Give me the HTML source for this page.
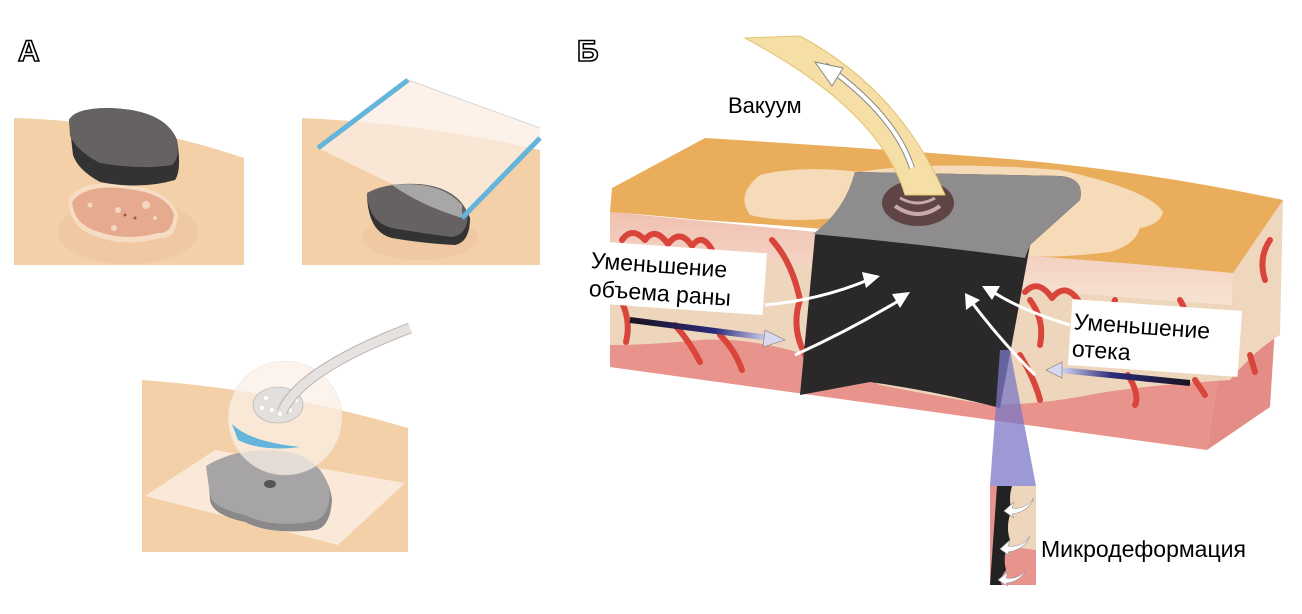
<!DOCTYPE html>
<html><head><meta charset="utf-8"><style>
html,body{margin:0;padding:0;background:#fff;}
svg{display:block;font-family:"Liberation Sans","DejaVu Sans",sans-serif;}
</style></head><body>
<svg width="1302" height="614" viewBox="0 0 1302 614" xmlns="http://www.w3.org/2000/svg">
<defs>
<linearGradient id="ga" x1="0" x2="1"><stop offset="0" stop-color="#1a1320"/><stop offset="0.6" stop-color="#2b2a7a"/><stop offset="1" stop-color="#d8d8f0"/></linearGradient>
<linearGradient id="gb" x1="1" x2="0"><stop offset="0" stop-color="#1a1320"/><stop offset="0.6" stop-color="#2b2a7a"/><stop offset="1" stop-color="#d8d8f0"/></linearGradient>
<linearGradient id="gp" x1="0" y1="0" x2="0" y2="1"><stop offset="0" stop-color="#f0c0b0"/><stop offset="1" stop-color="#f7e3d3"/></linearGradient>
</defs>

<text x="18" y="61" font-size="30" font-weight="bold" fill="#fff" stroke="#000" stroke-width="1.6">A</text>
<text x="577" y="61" font-size="30" font-weight="bold" fill="#fff" stroke="#000" stroke-width="1.6">Б</text>

<!-- Panel A1 -->
<path d="M14,118 Q140,122 244,158 L244,265 L14,265 Z" fill="#f3d0a8"/>
<ellipse cx="128" cy="232" rx="70" ry="32" fill="#eec39c" opacity="0.6"/>
<path d="M68,200 Q80,180 120,184 Q170,188 178,215 Q176,240 160,238 Q125,248 95,236 Q70,228 68,200Z" fill="#f7dcc4"/>
<path d="M72,202 Q84,185 120,188 Q168,192 174,215 Q172,234 158,233 Q125,242 96,231 Q74,224 72,202Z" fill="#e6ab8e"/>
<circle cx="118" cy="210" r="3" fill="#f3d6c4"/><circle cx="146" cy="205" r="4" fill="#f3d6c4"/><circle cx="114" cy="228" r="3" fill="#f3d6c4"/><circle cx="90" cy="205" r="2.5" fill="#f3d6c4"/><circle cx="155" cy="218" r="2" fill="#f3d6c4"/>
<circle cx="125" cy="215" r="1.5" fill="#a0584a"/><circle cx="135" cy="218" r="1.5" fill="#a0584a"/>
<path d="M69,120 Q75,108 110,108 Q165,110 177,140 Q182,170 175,180 Q140,190 100,182 Q78,170 73,155Z" fill="#333"/>
<path d="M69,120 Q75,108 110,108 Q165,110 177,140 Q180,158 172,165 Q140,170 100,163 Q78,152 70,136Z" fill="#666262"/>

<!-- Panel A2 -->
<path d="M302,118 Q430,124 540,150 L540,265 L302,265 Z" fill="#f3d0a8"/>
<path d="M318,148 L408,80 L540,128 L540,138 L462,218 Z" fill="#fbeee3" opacity="0.75"/>
<path d="M408,80 L540,128" stroke="#ccc" stroke-width="0.7"/>
<ellipse cx="420" cy="238" rx="58" ry="22" fill="#eec39c" opacity="0.6"/>
<path d="M367,195 Q385,184 420,186 Q460,190 470,218 Q470,242 455,245 Q420,243 392,238 Q368,232 367,195Z" fill="#333"/>
<path d="M367,193 Q387,182 420,184 Q458,188 468,214 Q468,234 452,237 Q420,233 392,228 Q368,222 367,193Z" fill="#666262"/>
<path d="M392,185 Q440,180 462,205 L462,218 Q420,205 392,185Z" fill="#a8a6a6"/>
<path d="M318,148 L408,80" stroke="#64b4dc" stroke-width="5"/>
<path d="M462,218 L540,138" stroke="#64b4dc" stroke-width="5"/>

<!-- Panel A3 -->
<path d="M142,380 Q280,390 408,428 L408,552 L142,552 Z" fill="#f3d0a8"/>
<path d="M145,496 L215,450 L405,483 L338,545 Z" fill="#fbeee3" opacity="0.8"/>
<path d="M208,470 Q240,448 290,455 Q328,465 332,500 Q330,528 315,530 Q270,535 245,522 Q212,515 210,500Z" fill="#8a8888"/>
<path d="M206,466 Q240,445 290,452 Q326,462 330,495 Q328,520 310,522 Q270,528 245,515 Q213,508 210,495Z" fill="#a6a4a4"/>
<ellipse cx="270" cy="484" rx="6" ry="4" fill="#555"/>
<circle cx="285" cy="418" r="57" fill="#fbf0e6" opacity="0.75" stroke="#ddd" stroke-width="0.6"/>
<path d="M232,424 Q250,442 300,447 Q262,452 238,440Z" fill="#64b4dc"/>
<ellipse cx="278" cy="405" rx="25" ry="18" fill="#e2dfdd" stroke="#aaa" stroke-width="0.6"/>
<g fill="#fff"><circle cx="266" cy="398" r="2"/><circle cx="272" cy="410" r="2"/><circle cx="280" cy="414" r="2"/><circle cx="290" cy="410" r="2"/><circle cx="262" cy="408" r="2"/><circle cx="296" cy="400" r="2"/></g>
<path d="M282,412 Q300,370 410,328" stroke="#b8b2b0" stroke-width="11" fill="none"/>
<path d="M282,412 Q300,370 410,328" stroke="#e6e2e0" stroke-width="9" fill="none"/>

<!-- Panel Б block -->
<!-- right face -->
<path d="M1233,273 L1283,200 L1270,407 L1207,450 Z" fill="#e48c86"/>
<path d="M1233,273 L1283,200 L1280,335 Q1255,350 1230,380 Z" fill="#efd7be"/>
<!-- front face -->
<path d="M610,212 L1233,273 L1207,450 L610,367 Z" fill="#e8948c"/>
<path d="M610,212 L1233,273 L1230,380 Q1150,385 1100,393 Q1040,405 990,405 Q930,395 880,385 Q780,335 700,340 Q650,345 610,345 Z" fill="#eed6bd"/>
<path d="M610,212 L1233,273 L1232,305 Q1150,300 1040,290 L610,245 Z" fill="url(#gp)"/>
<g stroke="#d9453b" stroke-width="6" fill="none" stroke-linecap="round" stroke-linejoin="round">
<path d="M622,240 Q632,226 645,240 Q655,226 668,244 Q680,228 692,246 Q702,232 712,250"/>
<path d="M772,240 Q792,262 800,300 Q790,330 808,360"/>
<path d="M618,295 Q632,318 626,342"/>
<path d="M675,325 Q690,342 700,362"/>
<path d="M720,335 Q735,350 742,370"/>
<path d="M1025,292 Q1038,278 1052,298 Q1065,282 1078,300"/>
<path d="M1030,300 Q1045,320 1040,345"/>
<path d="M1115,300 Q1108,320 1115,340"/>
<path d="M1020,355 Q1035,380 1040,400"/>
<path d="M1128,375 Q1140,395 1135,405"/>
<path d="M1180,300 Q1192,320 1185,340"/>
<path d="M1195,380 L1205,395"/>
<path d="M1270,240 Q1258,258 1265,280"/>
<path d="M1250,355 L1255,372"/>
</g>
<!-- top orange -->
<path d="M612,188 L705,138 Q900,150 1020,160 Q1150,172 1283,200 L1233,273 Q1120,262 1030,256 Q900,232 700,220 Q650,215 610,212 Z" fill="#e9ad5c"/>
<path d="M760,175 Q800,165 860,172 Q930,160 1060,170 Q1150,190 1163,212 Q1160,225 1140,228 Q1135,245 1110,252 Q1060,258 1030,256 Q950,240 860,215 Q790,225 750,215 Q735,195 760,175Z" fill="#f6dbb8"/>
<!-- foam -->
<path d="M855,172 L1060,176 Q1085,178 1080,200 L1030,245 L1020,300 L1000,408 Q940,392 870,382 L800,395 L815,235 Q845,210 855,172Z" fill="#2a2828"/>
<path d="M855,172 L1060,176 Q1085,178 1080,200 L1030,245 L1025,258 Q930,245 813,234 Q845,210 855,172Z" fill="#8e8c8c"/>
<ellipse cx="918" cy="203" rx="36" ry="23" fill="#5e4444"/>
<path d="M895,206 Q918,222 940,206" stroke="#c8a8a8" stroke-width="4" fill="none"/>
<path d="M900,198 Q918,208 935,198" stroke="#c8a8a8" stroke-width="3" fill="none"/>
<!-- tube -->
<path d="M745,38 L800,36 Q900,90 945,195 L905,195 Q880,110 745,38Z" fill="#f6dfa6" stroke="#e4c270" stroke-width="1"/>
<path d="M825,65 Q895,115 912,168" stroke="#888" stroke-width="6" fill="none"/>
<path d="M825,65 Q895,115 912,168" stroke="#fff" stroke-width="4" fill="none"/>
<path d="M815,62 L843,68 L832,86 Z" fill="#fff" stroke="#888" stroke-width="1"/>
<text x="728" y="113" font-size="22">Вакуум</text>

<path d="M1000,350 L1010,350 L1036,486 L990,486 Z" fill="#7b77c6" opacity="0.75"/>

<g stroke="#fff" stroke-width="3" fill="none">
<path d="M765,305 Q820,300 868,280"/>
<path d="M795,355 Q850,330 900,300"/>
<path d="M1070,325 Q1020,310 990,290"/>
<path d="M1035,375 Q1000,340 970,300"/>
</g>
<g fill="#fff">
<path d="M880,276 L862,272 L866,288Z"/><path d="M910,292 L892,294 L900,308Z"/>
<path d="M982,286 L1000,286 L992,300Z"/><path d="M965,293 L980,300 L966,310Z"/>
</g>
<path d="M630,320 L770,338" stroke="url(#ga)" stroke-width="6"/>
<path d="M765,330 L785,340 L763,347Z" fill="#d8d8f0" stroke="#777" stroke-width="0.6"/>
<path d="M1060,370 L1190,383" stroke="url(#gb)" stroke-width="6"/>
<path d="M1062,362 L1046,370 L1062,378Z" fill="#d8d8f0" stroke="#777" stroke-width="0.6"/>

<g transform="rotate(4 676 278)">
<rect x="588" y="247" width="177" height="62" fill="#fff"/>
<text x="590" y="274" font-size="23">Уменьшение</text>
<text x="590" y="302" font-size="23">объема раны</text>
</g>
<g transform="rotate(4 1155 338)">
<rect x="1070" y="305" width="170" height="66" fill="#fff"/>
<text x="1073" y="335" font-size="23">Уменьшение</text>
<text x="1073" y="362" font-size="23">отека</text>
</g>

<path d="M990,486 L1036,486 L1036,585 L990,585Z" fill="#e8948c"/>
<path d="M1000,486 L1036,486 L1036,550 L1000,545Z" fill="#eed6bd"/>
<path d="M997,486 L1012,486 Q1008,500 1012,510 Q1005,525 1010,540 Q1002,555 1006,570 Q998,580 1002,585 L990,585Z" fill="#222"/>
<g fill="#fff" stroke="#999" stroke-width="0.6">
<path d="M1034,498 Q1025,510 1012,508 L1014,502 L1004,511 L1014,518 L1012,514 Q1028,512 1034,498Z"/>
<path d="M1030,536 Q1022,548 1008,546 L1010,540 L1000,549 L1010,556 L1008,552 Q1024,550 1030,536Z"/>
<path d="M1026,570 Q1018,580 1006,578 L1008,572 L998,580 L1008,586 L1006,583 Q1020,582 1026,570Z"/>
</g>
<text x="1041" y="557" font-size="23">Микродеформация</text>
</svg>
</body></html>
